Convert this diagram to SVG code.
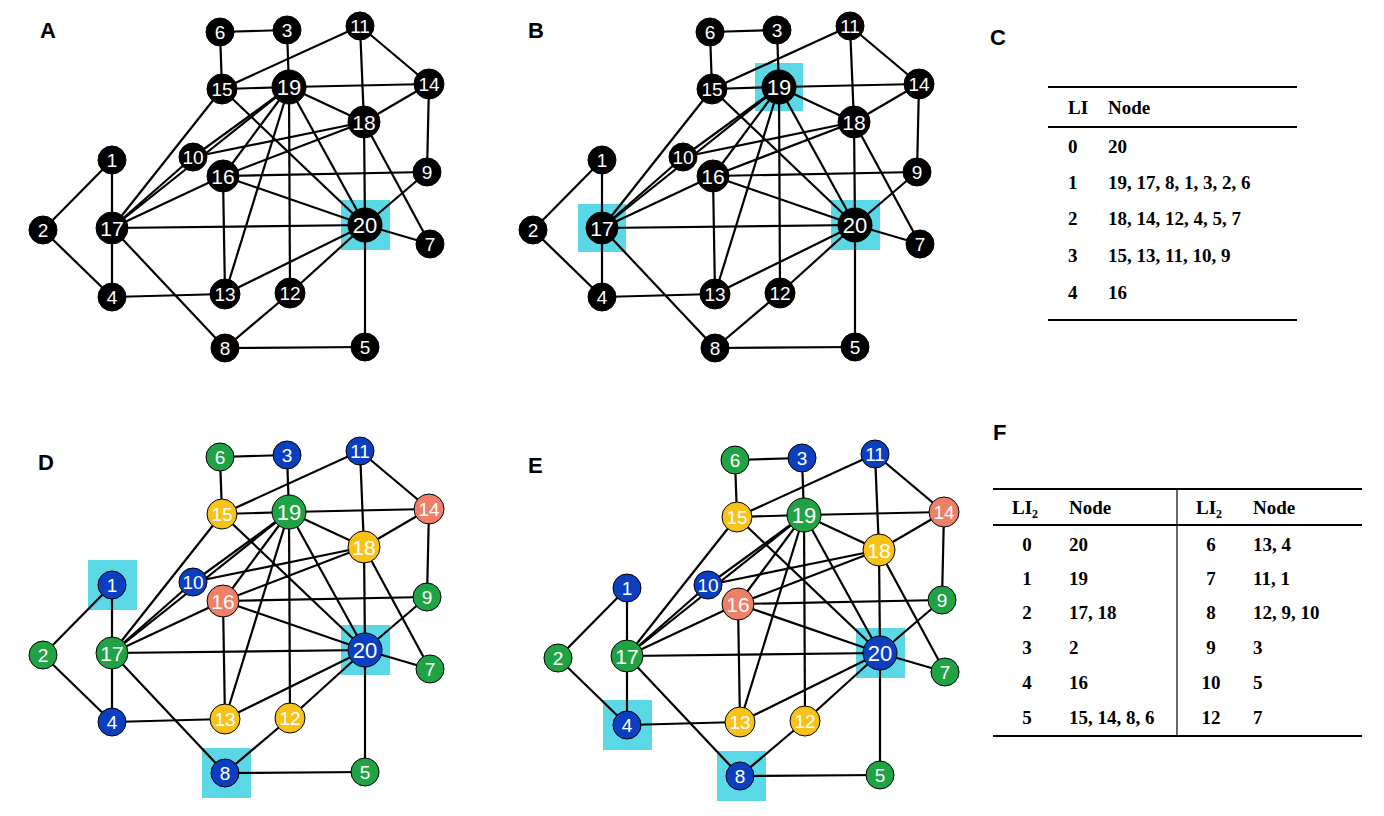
<svg xmlns="http://www.w3.org/2000/svg" xmlns:xlink="http://www.w3.org/1999/xlink" width="1384" height="816" viewBox="0 0 1384 816">
<style>
.e line{stroke:#000;stroke-width:2.2}
.n circle{stroke:#000;stroke-width:1}
.n text{font-family:"Liberation Sans",Arial,sans-serif;font-size:19px;fill:#fff;text-anchor:middle;dominant-baseline:central}
.hl{fill:#5ad8e6}
.lab{font-family:"Liberation Sans",Arial,sans-serif;font-size:22px;font-weight:bold}
.t{font-family:"Liberation Serif","Times New Roman",serif;font-size:19px;font-weight:bold}
.k{fill:#000}.g{fill:#1fa345}.b{fill:#0c3fbf}.y{fill:#f8c318}.s{fill:#f07f68}
</style>
<defs>
<g id="edges" class="e">
<line x1="220" y1="32" x2="287" y2="30"/><line x1="220" y1="32" x2="222" y2="89"/><line x1="287" y1="30" x2="289" y2="87"/>
<line x1="360" y1="26" x2="222" y2="89"/><line x1="360" y1="26" x2="364" y2="122"/><line x1="360" y1="26" x2="429" y2="84"/>
<line x1="222" y1="89" x2="289" y2="87"/><line x1="222" y1="89" x2="112" y2="228"/><line x1="222" y1="89" x2="365" y2="225"/>
<line x1="289" y1="87" x2="429" y2="84"/><line x1="289" y1="87" x2="364" y2="122"/><line x1="289" y1="87" x2="193" y2="157"/>
<line x1="289" y1="87" x2="223" y2="176"/><line x1="289" y1="87" x2="225" y2="294"/><line x1="289" y1="87" x2="290" y2="293"/>
<line x1="289" y1="87" x2="365" y2="225"/><line x1="289" y1="87" x2="112" y2="228"/>
<line x1="364" y1="122" x2="429" y2="84"/><line x1="364" y1="122" x2="193" y2="157"/><line x1="364" y1="122" x2="223" y2="176"/>
<line x1="364" y1="122" x2="365" y2="225"/><line x1="364" y1="122" x2="430" y2="244"/>
<line x1="429" y1="84" x2="427" y2="172"/><line x1="223" y1="176" x2="427" y2="172"/><line x1="223" y1="176" x2="365" y2="225"/>
<line x1="223" y1="176" x2="225" y2="294"/><line x1="223" y1="176" x2="112" y2="228"/><line x1="193" y1="157" x2="112" y2="228"/>
<line x1="427" y1="172" x2="365" y2="225"/><line x1="112" y1="228" x2="365" y2="225"/><line x1="365" y1="225" x2="430" y2="244"/>
<line x1="365" y1="225" x2="225" y2="294"/><line x1="365" y1="225" x2="290" y2="293"/><line x1="365" y1="225" x2="365" y2="347"/>
<line x1="43" y1="230" x2="112" y2="160"/><line x1="43" y1="230" x2="112" y2="297"/><line x1="112" y1="160" x2="112" y2="228"/>
<line x1="112" y1="228" x2="112" y2="297"/><line x1="112" y1="228" x2="225" y2="348"/><line x1="112" y1="297" x2="225" y2="294"/>
<line x1="290" y1="293" x2="225" y2="348"/><line x1="225" y1="348" x2="365" y2="347"/>
</g>
</defs>

<!-- Labels -->
<text class="lab" x="40" y="38">A</text>
<text class="lab" x="528" y="38">B</text>
<text class="lab" x="990" y="45">C</text>
<text class="lab" x="38" y="470">D</text>
<text class="lab" x="528" y="473">E</text>
<text class="lab" x="993" y="440">F</text>

<!-- Panel A -->
<g id="panelA">
<rect class="hl" x="341" y="200" width="49" height="50"/>
<g id="connectorsA"><use xlink:href="#edges"/></g>
<g class="n">
<g id="A6"><circle class="k" cx="220" cy="32" r="14"/><text x="220" y="32">6</text></g>
<g id="A3"><circle class="k" cx="287" cy="30" r="14"/><text x="287" y="30">3</text></g>
<g id="A11"><circle class="k" cx="360" cy="26" r="14"/><text x="360" y="26">11</text></g>
<g id="A15"><circle class="k" cx="222" cy="89" r="15"/><text x="222" y="89">15</text></g>
<g id="A19"><circle class="k" cx="289" cy="87" r="17"/><text x="289" y="87" style="font-size:22px">19</text></g>
<g id="A14"><circle class="k" cx="429" cy="84" r="15"/><text x="429" y="84">14</text></g>
<g id="A18"><circle class="k" cx="364" cy="122" r="16"/><text x="364" y="122" style="font-size:21px">18</text></g>
<g id="A10"><circle class="k" cx="193" cy="157" r="14"/><text x="193" y="157">10</text></g>
<g id="A16"><circle class="k" cx="223" cy="176" r="16"/><text x="223" y="176" style="font-size:21px">16</text></g>
<g id="A1"><circle class="k" cx="112" cy="160" r="14"/><text x="112" y="160">1</text></g>
<g id="A9"><circle class="k" cx="427" cy="172" r="14"/><text x="427" y="172">9</text></g>
<g id="A2"><circle class="k" cx="43" cy="230" r="14"/><text x="43" y="230">2</text></g>
<g id="A17"><circle class="k" cx="112" cy="228" r="16"/><text x="112" y="228" style="font-size:21px">17</text></g>
<g id="A20"><circle class="k" cx="365" cy="225" r="17"/><text x="365" y="225" style="font-size:22px">20</text></g>
<g id="A7"><circle class="k" cx="430" cy="244" r="14"/><text x="430" y="244">7</text></g>
<g id="A4"><circle class="k" cx="112" cy="297" r="14"/><text x="112" y="297">4</text></g>
<g id="A13"><circle class="k" cx="225" cy="294" r="15"/><text x="225" y="294">13</text></g>
<g id="A12"><circle class="k" cx="290" cy="293" r="15"/><text x="290" y="293">12</text></g>
<g id="A8"><circle class="k" cx="225" cy="348" r="14"/><text x="225" y="348">8</text></g>
<g id="A5"><circle class="k" cx="365" cy="347" r="14"/><text x="365" y="347">5</text></g>
</g>
</g>

<!-- Panel B -->
<g id="panelB" transform="translate(490,0)">
<rect class="hl" x="341" y="200" width="49" height="50"/>
<rect class="hl" x="265" y="63" width="48" height="48"/>
<rect class="hl" x="88" y="204" width="48" height="48"/>
<g id="connectorsB"><use xlink:href="#edges"/></g>
<g class="n">
<g id="B6"><circle class="k" cx="220" cy="32" r="14"/><text x="220" y="32">6</text></g>
<g id="B3"><circle class="k" cx="287" cy="30" r="14"/><text x="287" y="30">3</text></g>
<g id="B11"><circle class="k" cx="360" cy="26" r="14"/><text x="360" y="26">11</text></g>
<g id="B15"><circle class="k" cx="222" cy="89" r="15"/><text x="222" y="89">15</text></g>
<g id="B19"><circle class="k" cx="289" cy="87" r="17"/><text x="289" y="87" style="font-size:22px">19</text></g>
<g id="B14"><circle class="k" cx="429" cy="84" r="15"/><text x="429" y="84">14</text></g>
<g id="B18"><circle class="k" cx="364" cy="122" r="16"/><text x="364" y="122" style="font-size:21px">18</text></g>
<g id="B10"><circle class="k" cx="193" cy="157" r="14"/><text x="193" y="157">10</text></g>
<g id="B16"><circle class="k" cx="223" cy="176" r="16"/><text x="223" y="176" style="font-size:21px">16</text></g>
<g id="B1"><circle class="k" cx="112" cy="160" r="14"/><text x="112" y="160">1</text></g>
<g id="B9"><circle class="k" cx="427" cy="172" r="14"/><text x="427" y="172">9</text></g>
<g id="B2"><circle class="k" cx="43" cy="230" r="14"/><text x="43" y="230">2</text></g>
<g id="B17"><circle class="k" cx="112" cy="228" r="16"/><text x="112" y="228" style="font-size:21px">17</text></g>
<g id="B20"><circle class="k" cx="365" cy="225" r="17"/><text x="365" y="225" style="font-size:22px">20</text></g>
<g id="B7"><circle class="k" cx="430" cy="244" r="14"/><text x="430" y="244">7</text></g>
<g id="B4"><circle class="k" cx="112" cy="297" r="14"/><text x="112" y="297">4</text></g>
<g id="B13"><circle class="k" cx="225" cy="294" r="15"/><text x="225" y="294">13</text></g>
<g id="B12"><circle class="k" cx="290" cy="293" r="15"/><text x="290" y="293">12</text></g>
<g id="B8"><circle class="k" cx="225" cy="348" r="14"/><text x="225" y="348">8</text></g>
<g id="B5"><circle class="k" cx="365" cy="347" r="14"/><text x="365" y="347">5</text></g>
</g>
</g>

<!-- Panel D -->
<g id="panelD" transform="translate(0,425)">
<rect class="hl" x="341" y="200" width="49" height="50"/>
<rect class="hl" x="88" y="135" width="49" height="50"/>
<rect class="hl" x="202" y="323" width="49" height="50"/>
<g id="connectorsD"><use xlink:href="#edges"/></g>
<g class="n">
<g id="D6"><circle class="g" cx="220" cy="32" r="14"/><text x="220" y="32">6</text></g>
<g id="D3"><circle class="b" cx="287" cy="30" r="14"/><text x="287" y="30">3</text></g>
<g id="D11"><circle class="b" cx="360" cy="26" r="14"/><text x="360" y="26">11</text></g>
<g id="D15"><circle class="y" cx="222" cy="89" r="15"/><text x="222" y="89">15</text></g>
<g id="D19"><circle class="g" cx="289" cy="87" r="17"/><text x="289" y="87" style="font-size:22px">19</text></g>
<g id="D14"><circle class="s" cx="429" cy="84" r="15"/><text x="429" y="84">14</text></g>
<g id="D18"><circle class="y" cx="364" cy="122" r="16"/><text x="364" y="122" style="font-size:21px">18</text></g>
<g id="D10"><circle class="b" cx="193" cy="157" r="14"/><text x="193" y="157">10</text></g>
<g id="D16"><circle class="s" cx="223" cy="176" r="16"/><text x="223" y="176" style="font-size:21px">16</text></g>
<g id="D1"><circle class="b" cx="112" cy="160" r="14"/><text x="112" y="160">1</text></g>
<g id="D9"><circle class="g" cx="427" cy="172" r="14"/><text x="427" y="172">9</text></g>
<g id="D2"><circle class="g" cx="43" cy="230" r="14"/><text x="43" y="230">2</text></g>
<g id="D17"><circle class="g" cx="112" cy="228" r="16"/><text x="112" y="228" style="font-size:21px">17</text></g>
<g id="D20"><circle class="b" cx="365" cy="225" r="17"/><text x="365" y="225" style="font-size:22px">20</text></g>
<g id="D7"><circle class="g" cx="430" cy="244" r="14"/><text x="430" y="244">7</text></g>
<g id="D4"><circle class="b" cx="112" cy="297" r="14"/><text x="112" y="297">4</text></g>
<g id="D13"><circle class="y" cx="225" cy="294" r="15"/><text x="225" y="294">13</text></g>
<g id="D12"><circle class="y" cx="290" cy="293" r="15"/><text x="290" y="293">12</text></g>
<g id="D8"><circle class="b" cx="225" cy="348" r="14"/><text x="225" y="348">8</text></g>
<g id="D5"><circle class="g" cx="365" cy="347" r="14"/><text x="365" y="347">5</text></g>
</g>
</g>

<!-- Panel E -->
<g id="panelE" transform="translate(515,428)">
<rect class="hl" x="341" y="200" width="49" height="50"/>
<rect class="hl" x="88" y="272" width="49" height="50"/>
<rect class="hl" x="202" y="323" width="49" height="50"/>
<g id="connectorsE"><use xlink:href="#edges"/></g>
<g class="n">
<g id="E6"><circle class="g" cx="220" cy="32" r="14"/><text x="220" y="32">6</text></g>
<g id="E3"><circle class="b" cx="287" cy="30" r="14"/><text x="287" y="30">3</text></g>
<g id="E11"><circle class="b" cx="360" cy="26" r="14"/><text x="360" y="26">11</text></g>
<g id="E15"><circle class="y" cx="222" cy="89" r="15"/><text x="222" y="89">15</text></g>
<g id="E19"><circle class="g" cx="289" cy="87" r="17"/><text x="289" y="87" style="font-size:22px">19</text></g>
<g id="E14"><circle class="s" cx="429" cy="84" r="15"/><text x="429" y="84">14</text></g>
<g id="E18"><circle class="y" cx="364" cy="122" r="16"/><text x="364" y="122" style="font-size:21px">18</text></g>
<g id="E10"><circle class="b" cx="193" cy="157" r="14"/><text x="193" y="157">10</text></g>
<g id="E16"><circle class="s" cx="223" cy="176" r="16"/><text x="223" y="176" style="font-size:21px">16</text></g>
<g id="E1"><circle class="b" cx="112" cy="160" r="14"/><text x="112" y="160">1</text></g>
<g id="E9"><circle class="g" cx="427" cy="172" r="14"/><text x="427" y="172">9</text></g>
<g id="E2"><circle class="g" cx="43" cy="230" r="14"/><text x="43" y="230">2</text></g>
<g id="E17"><circle class="g" cx="112" cy="228" r="16"/><text x="112" y="228" style="font-size:21px">17</text></g>
<g id="E20"><circle class="b" cx="365" cy="225" r="17"/><text x="365" y="225" style="font-size:22px">20</text></g>
<g id="E7"><circle class="g" cx="430" cy="244" r="14"/><text x="430" y="244">7</text></g>
<g id="E4"><circle class="b" cx="112" cy="297" r="14"/><text x="112" y="297">4</text></g>
<g id="E13"><circle class="y" cx="225" cy="294" r="15"/><text x="225" y="294">13</text></g>
<g id="E12"><circle class="y" cx="290" cy="293" r="15"/><text x="290" y="293">12</text></g>
<g id="E8"><circle class="b" cx="225" cy="348" r="14"/><text x="225" y="348">8</text></g>
<g id="E5"><circle class="g" cx="365" cy="347" r="14"/><text x="365" y="347">5</text></g>
</g>
</g>

<!-- Table C -->
<g id="tableC">
<line x1="1048" y1="87" x2="1297" y2="87" stroke="#000" stroke-width="2"/>
<line x1="1048" y1="127" x2="1297" y2="127" stroke="#000" stroke-width="2"/>
<line x1="1048" y1="320" x2="1297" y2="320" stroke="#000" stroke-width="2"/>
<text class="t" x="1068" y="114">LI</text><text class="t" x="1108" y="114">Node</text>
<text class="t" x="1068" y="153">0</text><text class="t" x="1108" y="153">20</text>
<text class="t" x="1068" y="189">1</text><text class="t" x="1108" y="189">19, 17, 8, 1, 3, 2, 6</text>
<text class="t" x="1068" y="225">2</text><text class="t" x="1108" y="225">18, 14, 12, 4, 5, 7</text>
<text class="t" x="1068" y="262">3</text><text class="t" x="1108" y="262">15, 13, 11, 10, 9</text>
<text class="t" x="1068" y="299">4</text><text class="t" x="1108" y="299">16</text>
</g>

<!-- Table F -->
<g id="tableF">
<line x1="993" y1="489" x2="1362" y2="489" stroke="#000" stroke-width="2"/>
<line x1="993" y1="525" x2="1362" y2="525" stroke="#000" stroke-width="2"/>
<line x1="993" y1="736" x2="1362" y2="736" stroke="#000" stroke-width="2"/>
<line x1="1177" y1="489" x2="1177" y2="736" stroke="#000" stroke-width="1.2"/>
<g class="t">
<text x="1012" y="514">LI<tspan dy="4" font-size="12">2</tspan></text><text x="1069" y="514">Node</text>
<text x="1196" y="514">LI<tspan dy="4" font-size="12">2</tspan></text><text x="1253" y="514">Node</text>
</g>
<g class="t" text-anchor="middle">
<text x="1027" y="551">0</text><text x="1027" y="585">1</text><text x="1027" y="619">2</text><text x="1027" y="654">3</text><text x="1027" y="689">4</text><text x="1027" y="724">5</text>
<text x="1211" y="551">6</text><text x="1211" y="585">7</text><text x="1211" y="619">8</text><text x="1211" y="654">9</text><text x="1211" y="689">10</text><text x="1211" y="724">12</text>
</g>
<g class="t">
<text x="1069" y="551">20</text><text x="1069" y="585">19</text><text x="1069" y="619">17, 18</text><text x="1069" y="654">2</text><text x="1069" y="689">16</text><text x="1069" y="724">15, 14, 8, 6</text>
<text x="1253" y="551">13, 4</text><text x="1253" y="585">11, 1</text><text x="1253" y="619">12, 9, 10</text><text x="1253" y="654">3</text><text x="1253" y="689">5</text><text x="1253" y="724">7</text>
</g>
</g>
</svg>
